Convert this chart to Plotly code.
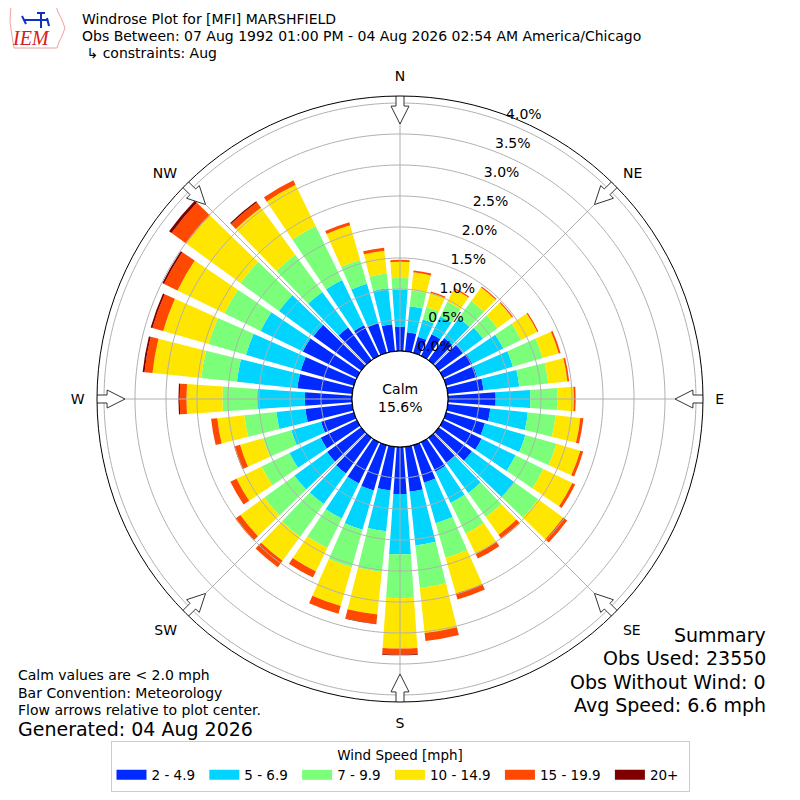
import numpy as np
import plotly.graph_objects as go

# direction bins (degrees, meteorological convention), 10 degree wide
directions = list(range(0, 360, 10))

speed_bins = ["2 - 4.9", "5 - 6.9", "7 - 9.9", "10 - 14.9", "15 - 19.9", "20+"]
bin_colors = ["#002aff", "#00d4ff", "#7bff7b", "#ffe600", "#ff4800", "#800000"]

pct_2_5 = [0.39, 0.31, 0.27, 0.39, 0.44, 0.48, 0.52, 0.52, 0.58, 0.77,
           0.69, 0.65, 0.69, 0.66, 0.50, 0.53, 0.63, 0.73, 0.76, 0.71,
           0.76, 0.74, 0.71, 0.68, 0.65, 0.55, 0.76, 0.76, 0.89, 0.89,
           0.97, 0.95, 0.65, 0.55, 0.50, 0.44]
pct_5_7 = [0.60, 0.42, 0.29, 0.32, 0.40, 0.40, 0.56, 0.60, 0.58, 0.56,
           0.61, 0.68, 0.61, 0.84, 0.60, 0.56, 0.68, 0.87, 0.97, 0.66,
           0.66, 0.63, 0.61, 0.65, 0.56, 0.50, 0.47, 0.77, 0.98, 0.92,
           0.76, 0.69, 0.71, 0.81, 0.66, 0.58]
pct_7_10 = [0.19, 0.26, 0.21, 0.26, 0.34, 0.29, 0.32, 0.50, 0.47, 0.44,
            0.45, 0.52, 0.50, 0.48, 0.48, 0.55, 0.58, 0.69, 0.71, 0.66,
            0.63, 0.53, 0.65, 0.60, 0.50, 0.47, 0.52, 0.56, 0.58, 0.63,
            0.65, 0.77, 0.74, 0.97, 0.40, 0.24]
pct_10_15 = [0.26, 0.29, 0.24, 0.23, 0.27, 0.29, 0.29, 0.27, 0.31, 0.26,
             0.40, 0.40, 0.52, 0.50, 0.35, 0.37, 0.60, 0.73, 0.81, 0.69,
             0.65, 0.42, 0.48, 0.48, 0.45, 0.39, 0.44, 0.58, 0.79, 0.76,
             0.84, 1.08, 0.94, 0.74, 0.58, 0.37]
pct_15_20 = [0.03, 0.03, 0.02, 0.02, 0.02, 0.02, 0.02, 0.03, 0.03, 0.03,
             0.05, 0.05, 0.05, 0.08, 0.08, 0.08, 0.10, 0.13, 0.10, 0.15,
             0.13, 0.11, 0.13, 0.10, 0.11, 0.10, 0.10, 0.11, 0.13, 0.18,
             0.24, 0.29, 0.11, 0.08, 0.05, 0.05]
pct_20_up = [0.0, 0.0, 0.0, 0.0, 0.0, 0.0, 0.0, 0.0, 0.0, 0.0,
             0.0, 0.0, 0.0, 0.0, 0.0, 0.0, 0.0, 0.0, 0.01, 0.01,
             0.0, 0.0, 0.0, 0.0, 0.0, 0.0, 0.0, 0.02, 0.03, 0.03,
             0.03, 0.05, 0.02, 0.0, 0.0, 0.0]

ring_ticks = [0.0, 0.5, 1.0, 1.5, 2.0, 2.5, 3.0, 3.5, 4.0]
compass_angles = [0, 45, 90, 135, 180, 225, 270, 315]
compass_labels = ["N", "NE", "E", "SE", "S", "SW", "W", "NW"]

calm_pct = 15.6
station = "[MFI] MARSHFIELD"
period = "07 Aug 1992 01:00 PM - 04 Aug 2026 02:54 AM America/Chicago"
summary = ["Summary", "Obs Used: 23550", "Obs Without Wind: 0", "Avg Speed: 6.6 mph"]

W, H = 800, 800
OFF = 8               # page body margin of the html output
RMAX = 4.113          # radial range of the rose
FONT = "DejaVu Sans"


def px(x, y):
    # pixel position in the screenshot -> paper coordinates
    return (x - OFF) / W, 1 - (y - OFF) / H


fig = go.Figure()

series = [pct_2_5, pct_5_7, pct_7_10, pct_10_15, pct_15_20, pct_20_up]
for name, vals, col in zip(speed_bins, series, bin_colors):
    fig.add_trace(go.Barpolar(
        r=vals, theta=directions, width=8, name=name,
        marker=dict(color=col, line=dict(width=0)),
        showlegend=False, hoverinfo="skip",
    ))

# grid drawn on top of the bars (like matplotlib)
th = np.linspace(0, 360, 361)
ring_r, ring_t = [], []
for t in ring_ticks[1:]:
    ring_r += [t] * len(th) + [None]
    ring_t += list(th) + [None]
fig.add_trace(go.Scatterpolar(r=ring_r, theta=ring_t, mode="lines",
                              line=dict(color="#b0b0b0", width=1),
                              showlegend=False, hoverinfo="skip"))
spoke_r, spoke_t = [], []
for a in compass_angles:
    spoke_r += [0, RMAX, None]
    spoke_t += [a, a, None]
fig.add_trace(go.Scatterpolar(r=spoke_r, theta=spoke_t, mode="lines",
                              line=dict(color="#b0b0b0", width=1),
                              showlegend=False, hoverinfo="skip"))

# calm circle
fig.add_trace(go.Scatterpolar(r=[0] * len(th), theta=th, mode="lines",
                              line=dict(color="black", width=1.2),
                              showlegend=False, hoverinfo="skip"))

# ring labels along the 21 degree line
fig.add_trace(go.Scatterpolar(r=ring_ticks, theta=[21] * len(ring_ticks),
                              mode="text", text=[f"{t:.1f}%" for t in ring_ticks],
                              textposition="top right",
                              textfont=dict(size=14, color="black"),
                              cliponaxis=False, showlegend=False,
                              hoverinfo="skip"))

# flow arrows on the compass points
R0, R1 = 48.0, 303.0
unit = (R1 - R0) / RMAX
arrow_shape = [(306, -4), (306, 4), (293, 4), (293, 9), (275, 0),
               (293, -9), (293, -4), (306, -4)]
for a in compass_angles:
    rr = [(p - R0) / unit for p, q in arrow_shape]
    tt = [a + np.degrees(np.arctan2(q, p)) for p, q in arrow_shape]
    fig.add_trace(go.Scatterpolar(r=rr, theta=tt, mode="lines", fill="toself",
                                  fillcolor="white",
                                  line=dict(color="#333333", width=1),
                                  cliponaxis=False, showlegend=False,
                                  hoverinfo="skip"))

# legend entries with wide swatches
for name, col in zip(speed_bins, bin_colors):
    fig.add_trace(go.Scatterpolar(r=[None], theta=[None], mode="lines",
                                  name=name + "\u00a0", line=dict(color=col, width=11),
                                  hoverinfo="skip"))

x0, y0 = px(97, 96)
x1, y1 = px(703, 702)

fig.update_layout(
    width=W, height=H,
    margin=dict(l=0, r=0, t=0, b=0),
    paper_bgcolor="white",
    font=dict(family=FONT, size=14, color="black"),
    polar=dict(
        domain=dict(x=[x0, x1], y=[y1, y0]),
        hole=R0 / R1,
        bgcolor="white",
        barmode="stack",
        angularaxis=dict(
            rotation=90, direction="clockwise",
            tickmode="array", tickvals=compass_angles, ticktext=compass_labels,
            ticks="outside", ticklen=9, tickcolor="rgba(0,0,0,0)",
            showgrid=False, showline=True, linecolor="black", linewidth=1,
            tickfont=dict(size=14),
        ),
        radialaxis=dict(
            range=[0, RMAX], showticklabels=False,
            showgrid=False, showline=False, ticks="",
        ),
    ),
    legend=dict(
        orientation="h", x=px(400, 0)[0], xanchor="center",
        y=px(0, 741)[1], yanchor="top",
        title=dict(text="Wind Speed [mph]", side="top center", font=dict(size=13.5)),
        font=dict(size=13.5), bordercolor="#cccccc", borderwidth=1,
        itemwidth=30, bgcolor="white",
    ),
)

ann = []
cx, cy = px(400, 398)
ann.append(dict(x=cx, y=cy, text=f"Calm<br>{calm_pct:.1f}%", showarrow=False,
                xanchor="center", yanchor="middle", font=dict(size=14)))

# header
title_lines = [f"Windrose Plot for {station}", f"Obs Between: {period}",
               " \u21b3 constraints: Aug"]
for i, line in enumerate(title_lines):
    xx, yy = px(80, 19 + 17 * i)
    ann.append(dict(x=xx, y=yy, text=line, showarrow=False, xanchor="left",
                    yanchor="middle", font=dict(size=14)))

# footnotes
notes = ["Calm values are < 2.0 mph", "Bar Convention: Meteorology",
         "Flow arrows relative to plot center."]
for i, line in enumerate(notes):
    xx, yy = px(16, 675 + 17.5 * i)
    ann.append(dict(x=xx, y=yy, text=line, showarrow=False, xanchor="left",
                    yanchor="middle", font=dict(size=14)))
xx, yy = px(16, 729)
ann.append(dict(x=xx, y=yy, text="Generated: 04 Aug 2026", showarrow=False,
                xanchor="left", yanchor="middle", font=dict(size=19)))

for i, line in enumerate(summary):
    xx, yy = px(768, 635 + 23.3 * i)
    ann.append(dict(x=xx, y=yy, text=line, showarrow=False, xanchor="right",
                    yanchor="middle", font=dict(size=19)))

# IEM logo (rough)
lx, ly = px(31, 38)
ann.append(dict(x=lx, y=ly, text="<i>IEM</i>", showarrow=False,
                xanchor="center", yanchor="middle",
                font=dict(family="Liberation Serif", size=20, color="#d42020")))
fig.update_layout(annotations=ann)

iowa = [(11, 6), (56, 6), (58, 12), (62, 20), (65, 28), (62, 36), (59, 42),
        (57, 48), (14, 48), (12, 36), (10, 22), (11, 6)]
path = "M " + " L ".join(f"{px(a, b)[0]:.4f},{px(a, b)[1]:.4f}" for a, b in iowa) + " Z"
shapes = [dict(type="path", path=path, xref="paper", yref="paper",
               line=dict(color="#f0a0a0", width=1))]
for (a, b, c, d) in [(24, 20, 47, 20), (41, 13, 41, 28), (37, 13, 45, 13),
                     (22, 16, 26, 24), (47, 18, 49, 26)]:
    p0, p1 = px(a, b), px(c, d)
    shapes.append(dict(type="line", xref="paper", yref="paper",
                       x0=p0[0], y0=p0[1], x1=p1[0], y1=p1[1],
                       line=dict(color="#1030c0", width=2)))
fig.update_layout(shapes=shapes)

fig.write_html("out.html")
